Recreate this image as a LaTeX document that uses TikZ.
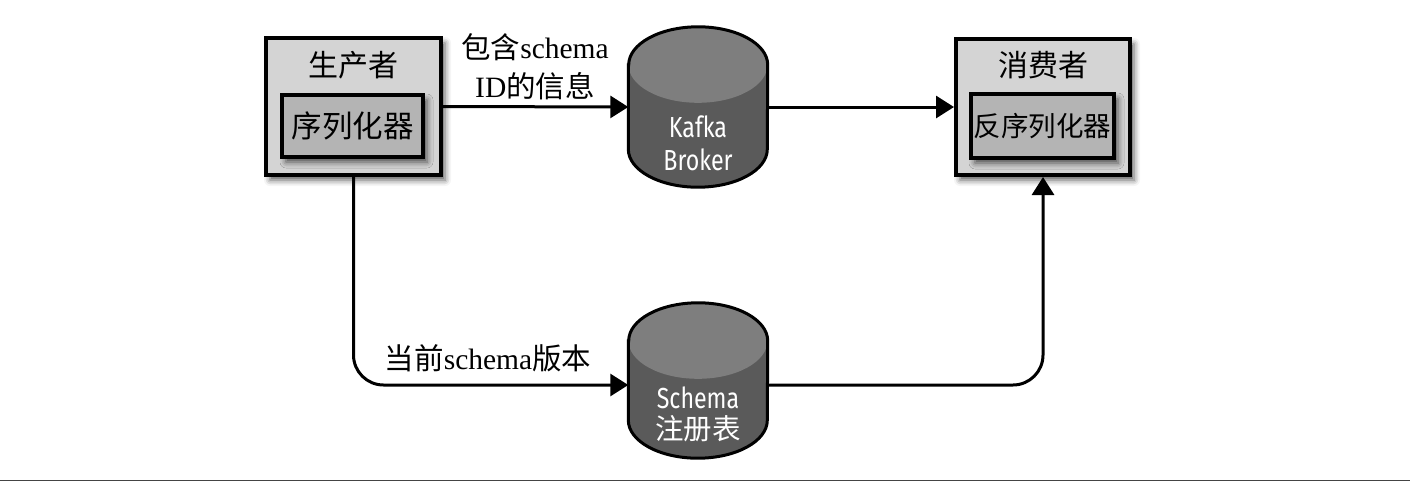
\documentclass[tikz,border=0pt]{standalone}
\usepackage{fontspec}
\setmainfont{Liberation Serif}
\newfontfamily\cjk{Noto Sans CJK SC}
\newfontfamily\cylfont[FakeStretch=0.8]{Fira Sans}
\usetikzlibrary{arrows.meta,shadows.blur,calc}
\definecolor{outerfill}{HTML}{D4D4D4}
\definecolor{innerfill}{HTML}{B4B4B4}
\definecolor{cylside}{HTML}{5A5A5A}
\definecolor{cyltop}{HTML}{7E7E7E}
\definecolor{rulegray}{HTML}{444444}
\newcommand\zh[1]{{\cjk #1}}
\newcommand\cylshape[1]{%
  \fill[cylside] ([yshift=-38pt]#1.north west) -- ([yshift=38pt]#1.south west)
    arc[start angle=180, end angle=360, x radius=69.5pt, y radius=38pt]
    -- ([yshift=-38pt]#1.north east)
    arc[start angle=0, end angle=180, x radius=69.5pt, y radius=38pt] -- cycle;
  \fill[cyltop] ([yshift=-38pt]#1.north) ellipse[x radius=69.5pt, y radius=38pt];
  \draw[line width=3pt] ([yshift=-38pt]#1.north west) -- ([yshift=38pt]#1.south west)
    arc[start angle=180, end angle=360, x radius=69.5pt, y radius=38pt]
    -- ([yshift=-38pt]#1.north east)
    arc[start angle=0, end angle=180, x radius=69.5pt, y radius=38pt] -- cycle;
}
\tikzset{
  outerbox/.style={draw=black, line width=4pt, fill=outerfill, inner sep=0pt,
    blur shadow={shadow xshift=4pt, shadow yshift=-5pt, shadow blur radius=6pt, shadow opacity=65}},
  innerbox/.style={draw=black, line width=4pt, fill=innerfill, inner sep=0pt,
    blur shadow={shadow xshift=4pt, shadow yshift=-5pt, shadow blur radius=6pt, shadow opacity=65}},
  boxtitle/.style={font=\cjk\fontsize{30}{34}\selectfont, inner sep=0pt},
  cylnode/.style={inner sep=0pt, minimum width=139pt},
  cyltext/.style={text=white, font=\fontsize{29}{33}\selectfont, inner sep=0pt},
  lbl/.style={font=\fontsize{29.5}{39}\selectfont, align=center, inner sep=0pt},
  arr/.style={line width=3pt, -{Triangle[length=18pt, width=22pt]}},
}
\begin{document}
\begin{tikzpicture}[x=1pt, y=-1pt]
\useasboundingbox (0,0) rectangle (1410,482);
% producer
\node[outerbox, minimum width=175pt, minimum height=137pt] (prod) at (353.5,106.5) {};
\node[boxtitle] (prodtitle) at (353,65) {生产者};
\node[innerbox, minimum width=141pt, minimum height=62pt,
      font=\cjk\fontsize{30.5}{34}\selectfont] (ser) at (352.5,126) {序列化器};
% consumer
\node[outerbox, minimum width=174pt, minimum height=136pt] (cons) at (1043,107) {};
\node[boxtitle] (constitle) at (1043,65) {消费者};
\node[innerbox, minimum width=143pt, minimum height=64pt,
      font=\cjk\fontsize{27.5}{32}\selectfont] (deser) at (1042.5,126) {反序列化器};
% kafka
\node[cylnode, minimum height=160pt] (kafka) at (698,107) {};
\cylshape{kafka}
\node[cyltext] (kafkat1) at (698,127) {\cylfont Kafka};
\node[cyltext] (kafkat2) at (698,160) {\cylfont Broker};
% schema registry
\node[cylnode, minimum height=155pt] (reg) at (698,380.5) {};
\cylshape{reg}
\node[cyltext] (regt1) at (698,398) {\cylfont Schema};
\node[cyltext] (regt2) at (698,429) {\cjk\fontsize{28.5}{32}\selectfont 注册表};
% connectors
\draw[arr] (prod.east) -- (kafka.west);
\draw[arr] (kafka.east) -- (cons.west);
\draw[arr, rounded corners=30pt] (prod.south) |- ([yshift=-4.5pt]reg.west);
\draw[arr, rounded corners=30pt] ([yshift=-4.5pt]reg.east) -| (cons.south);
% labels
\node[lbl] (lbl1) at (535,67) {\zh{包含}schema\\ID\zh{的信息}};
\node[lbl] (lbl2) at (488,358) {\zh{当前}schema\zh{版本}};
% bottom rule
\coordinate (rl) at (0,480.5);
\coordinate (rr) at (1410,480.5);
\draw[rulegray, line width=1.5pt] (rl) -- (rr);
\end{tikzpicture}
\end{document}
